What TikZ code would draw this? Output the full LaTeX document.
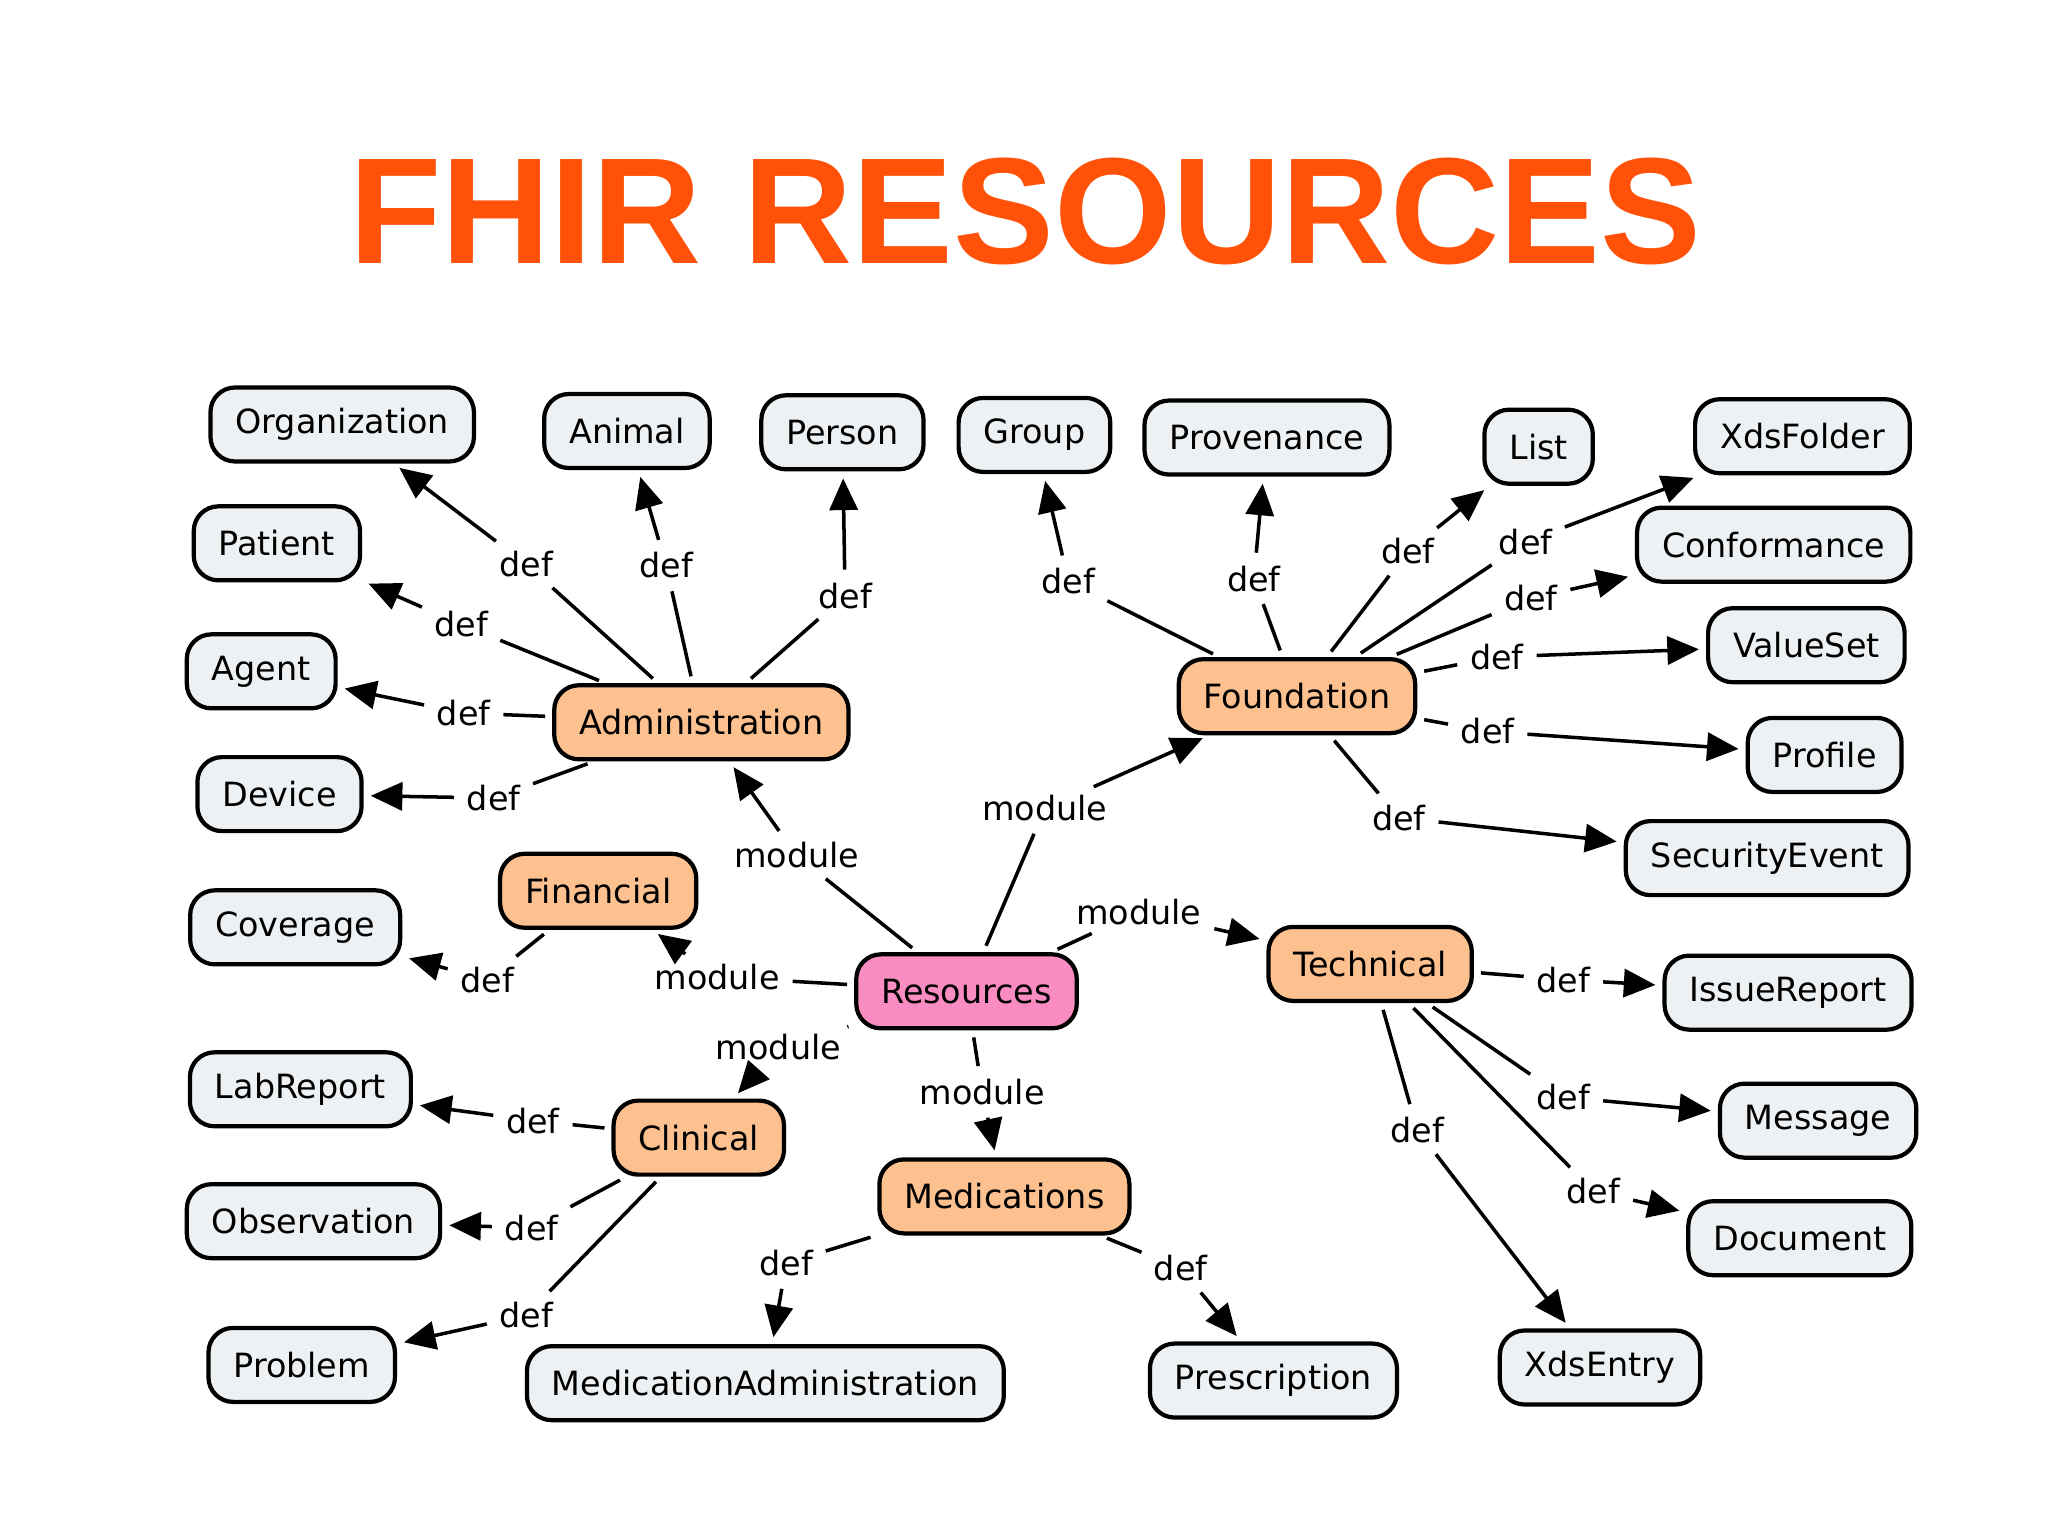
\documentclass[tikz,border=0pt]{standalone}
\usepackage{fontspec}
\setmainfont{DejaVu Sans}
\newfontfamily\titlefont{Liberation Sans}
\usetikzlibrary{arrows.meta}
\definecolor{fhirorange}{HTML}{FF5108}
\definecolor{boxgray}{HTML}{EEF1F3}
\definecolor{modorange}{HTML}{FDC08F}
\definecolor{rootpink}{HTML}{F98CC0}
\tikzset{
  res/.style={draw=black, line width=1.2pt, rounded corners=7pt, fill=boxgray,
    font=\fontsize{9.5}{11}\selectfont, minimum height=0.74cm, inner xsep=0.25cm},
  mod/.style={res, fill=modorange},
  root/.style={res, fill=rootpink},
  lbl/.style={font=\fontsize{9.5}{11}\selectfont, inner sep=1.5pt},
  link/.style={line width=1pt, shorten <=2pt, shorten >=2pt},
  arr/.style={link, -{Triangle[length=9pt,width=8pt]}}
}
\begin{document}
\begin{tikzpicture}[x=0.01306cm, y=-0.01306cm]
\useasboundingbox (0,0) rectangle (1568,1176);
% title
\node[font=\titlefont\bfseries\fontsize{43}{50}\selectfont, text=fhirorange] (title) at (785,162) {FHIR RESOURCES};

% modules
\node[root] (resources) at (740,759) {Resources};
\node[mod] (admin) at (537,553) {Administration};
\node[mod] (found) at (993,533) {Foundation};
\node[mod] (fin) at (458,682) {Financial};
\node[mod] (tech) at (1049,738) {Technical};
\node[mod] (clin) at (535,871) {Clinical};
\node[mod] (meds) at (769,916) {Medications};

% resources
\node[res] (org) at (262,325) {Organization};
\node[res] (animal) at (480,330) {Animal};
\node[res] (person) at (645,331) {Person};
\node[res] (group) at (792,333) {Group};
\node[res] (prov) at (970,335) {Provenance};
\node[res] (list) at (1178,342) {List};
\node[res] (xdsfolder) at (1380,334) {XdsFolder};
\node[res] (patient) at (212,416) {Patient};
\node[res] (conf) at (1358,417) {Conformance};
\node[res] (agent) at (200,514) {Agent};
\node[res] (valueset) at (1383,494) {ValueSet};
\node[res] (device) at (214,608) {Device};
\node[res] (profile) at (1397,578) {Profile};
\node[res] (secevent) at (1353,657) {SecurityEvent};
\node[res] (coverage) at (226,710) {Coverage};
\node[res] (issue) at (1369,760) {IssueReport};
\node[res] (labrep) at (230,834) {LabReport};
\node[res] (message) at (1392,858) {Message};
\node[res] (obs) at (240,935) {Observation};
\node[res] (document) at (1378,948) {Document};
\node[res] (problem) at (231,1045) {Problem};
\node[res] (medadmin) at (586,1059) {MedicationAdministration};
\node[res] (presc) at (975,1057) {Prescription};
\node[res] (xdsentry) at (1225,1047) {XdsEntry};

% labels: from, label position, to
\foreach \src/\x/\y/\txt/\dst [count=\i] in {
  admin/403/432/def/org, admin/510/433/def/animal, admin/647/456/def/person,
  admin/353/478/def/patient, admin/355/546/def/agent, admin/378/611/def/device,
  resources/610/655/module/admin, resources/549/748/module/fin,
  fin/373/750/def/coverage, resources/800/619/module/found,
  resources/872/698/module/tech, resources/596/802/module/clin,
  resources/752/836/module/meds,
  found/818/445/def/group, found/960/443/def/prov, found/1078/422/def/list,
  found/1168/415/def/xdsfolder, found/1172/458/def/conf,
  found/1146/503/def/valueset, found/1139/560/def/profile,
  found/1071/626/def/secevent,
  tech/1197/750/def/issue, tech/1197/840/def/message,
  tech/1220/912/def/document, tech/1085/865/def/xdsentry,
  clin/408/858/def/labrep, clin/407/940/def/obs, clin/403/1007/def/problem,
  meds/602/967/def/medadmin, meds/904/971/def/presc} {
  \node[lbl] (l\i) at (\x,\y) {\txt};
  \draw[link] (\src) -- (l\i);
  \draw[arr] (l\i) -- (\dst);
}
\end{tikzpicture}
\end{document}
